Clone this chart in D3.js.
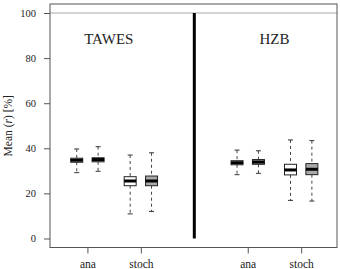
<!DOCTYPE html>
<html lang="en">
<head>
<meta charset="utf-8">
<title>Mean r boxplots</title>
<style>
  body { margin: 0; background: #fff; }
  svg text { font-family: "Liberation Serif", "Times New Roman", serif !important; fill: #222; }
</style>
</head>
<body>
<svg width="340" height="269"></svg>
<script src="https://d3js.org/d3.v7.min.js"></script>
<script>
// panels and methods
var panels = ['TAWES', 'HZB'];
var panelPos = [1.4, 4.5];
var methodPos = [1, 2, 4, 5];
var methodLabels = ['ana', 'stoch', 'ana', 'stoch'];

// box statistics: [whisker low, q1, median, q3, whisker high]
var boxWhite = [
  [29.2, 33.8, 34.7, 35.6, 39.7],   // TAWES ana
  [10.9, 23.4, 25.5, 27.4, 37.0],   // TAWES stoch
  [28.3, 32.7, 33.6, 34.5, 39.2],   // HZB ana
  [16.9, 28.2, 30.4, 32.9, 43.7]    // HZB stoch
];
var boxGray = [
  [29.8, 34.0, 35.0, 35.8, 40.7],
  [12.0, 23.4, 25.5, 27.7, 38.0],
  [28.9, 32.9, 33.9, 35.0, 38.9],
  [16.6, 28.3, 30.7, 33.2, 43.4]
];
var yTicks = [0, 20, 40, 60, 80, 100];

var svg = d3.select('svg');
var mLeft = 50, mRight = 337, mTop = 4, mBottom = 247.5;
var serif = '"Liberation Serif", "Times New Roman", serif';

var x = d3.scaleLinear().domain([0.3, 5.67]).range([mLeft, mRight]);
var y = d3.scaleLinear().domain([-4, 104]).range([mBottom, mTop]);

// reference line at 100
svg.append('line')
  .attr('x1', mLeft).attr('x2', mRight)
  .attr('y1', y(100)).attr('y2', y(100))
  .attr('stroke', '#aaa').attr('stroke-width', 1);

// divider between panels
svg.append('line')
  .attr('x1', x(3)).attr('x2', x(3))
  .attr('y1', y(100)).attr('y2', y(0))
  .attr('stroke', '#000').attr('stroke-width', 3);

var boxes = [];
boxWhite.forEach(function(d, i) { boxes.push({ s: d, pos: methodPos[i] - 0.2, fill: '#fff' }); });
boxGray.forEach(function(d, i) { boxes.push({ s: d, pos: methodPos[i] + 0.2, fill: '#aaa' }); });

var bw = 12, cap = 5;
var g = svg.append('g').selectAll('g').data(boxes).enter().append('g');

// dashed whiskers
g.append('line')
  .attr('x1', function(d) { return x(d.pos); }).attr('x2', function(d) { return x(d.pos); })
  .attr('y1', function(d) { return y(d.s[4]); }).attr('y2', function(d) { return y(d.s[3]); })
  .attr('stroke', '#444').attr('stroke-dasharray', '3,3');
g.append('line')
  .attr('x1', function(d) { return x(d.pos); }).attr('x2', function(d) { return x(d.pos); })
  .attr('y1', function(d) { return y(d.s[1]); }).attr('y2', function(d) { return y(d.s[0]); })
  .attr('stroke', '#444').attr('stroke-dasharray', '3,3');
// caps
[0, 4].forEach(function(k) {
  g.append('line')
    .attr('x1', function(d) { return x(d.pos) - cap / 2; }).attr('x2', function(d) { return x(d.pos) + cap / 2; })
    .attr('y1', function(d) { return y(d.s[k]); }).attr('y2', function(d) { return y(d.s[k]); })
    .attr('stroke', '#333');
});
// box
g.append('rect')
  .attr('x', function(d) { return x(d.pos) - bw / 2; })
  .attr('width', bw)
  .attr('y', function(d) { return y(d.s[3]); })
  .attr('height', function(d) { return y(d.s[1]) - y(d.s[3]); })
  .attr('fill', function(d) { return d.fill; })
  .attr('stroke', '#222');
// median
g.append('line')
  .attr('x1', function(d) { return x(d.pos) - bw / 2; }).attr('x2', function(d) { return x(d.pos) + bw / 2; })
  .attr('y1', function(d) { return y(d.s[2]); }).attr('y2', function(d) { return y(d.s[2]); })
  .attr('stroke', '#000').attr('stroke-width', 3);

// frame
svg.append('rect')
  .attr('x', mLeft).attr('y', mTop)
  .attr('width', mRight - mLeft).attr('height', mBottom - mTop)
  .attr('fill', 'none').attr('stroke', '#555');

// y axis
var yAxis = svg.append('g')
  .attr('transform', 'translate(' + mLeft + ',0)')
  .call(d3.axisLeft(y).tickValues(yTicks).tickSize(6).tickPadding(8));
yAxis.attr('font-family', serif);
yAxis.select('.domain').remove();
yAxis.selectAll('line').attr('stroke', '#555');
yAxis.selectAll('text').style('font-size', '10.5px');

// x axis
var xAxis = svg.append('g')
  .attr('transform', 'translate(0,' + mBottom + ')')
  .call(d3.axisBottom(x).tickValues(methodPos)
    .tickFormat(function(d, i) { return methodLabels[i]; })
    .tickSize(6).tickPadding(6));
xAxis.attr('font-family', serif);
xAxis.select('.domain').remove();
xAxis.selectAll('line').attr('stroke', '#555');
xAxis.selectAll('text').style('font-size', '11.5px');

// panel titles
svg.append('g').selectAll('text').data(panels).enter().append('text')
  .attr('x', function(d, i) { return x(panelPos[i]); })
  .attr('y', 44)
  .attr('text-anchor', 'middle')
  .style('font-size', '15px')
  .text(function(d) { return d; });

// y label
var yl = svg.append('text')
  .attr('transform', 'translate(12,' + (mTop + mBottom) / 2 + ') rotate(-90)')
  .attr('text-anchor', 'middle')
  .style('font-size', '11.5px');
yl.append('tspan').text('Mean (');
yl.append('tspan').style('font-style', 'italic').text('r');
yl.append('tspan').text(') [%]');
</script>
</body>
</html>
